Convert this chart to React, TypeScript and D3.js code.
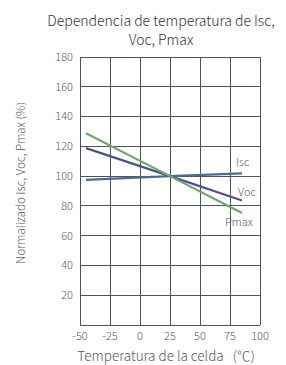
import { useEffect, useRef } from 'react'
import { select, scaleLinear, line } from 'd3'

// temperature (°C) sample points for each curve
const temps = [-45, 25, 85]
const iscValues = [97.5, 100, 101.8]
const vocValues = [118.8, 100, 83.6]
const pmaxValues = [128.8, 100, 75.2]

const xTicks = [-50, -25, 0, 25, 50, 75, 100]
const yTicks = [0, 20, 40, 60, 80, 100, 120, 140, 160, 180]

const seriesNames = ['Isc', 'Voc', 'Pmax']
const seriesColors = ['#4a6b96', '#4e528c', '#6fa86a']

const W = 286
const H = 365

const App = () => {
  const svgRef = useRef(null)

  useEffect(() => {
    const svg = select(svgRef.current)
    svg.selectAll('*').remove()

    const font = '"Noto Sans CJK SC", "Noto Sans", sans-serif'
    const textColor = '#595959'
    const gridColor = '#4d525c'

    const x = scaleLinear().domain([-50, 100]).range([80, 260])
    const y = scaleLinear().domain([0, 180]).range([325, 57])

    // title
    const title = ['Dependencia de temperatura de Isc,', 'Voc, Pmax']
    svg
      .append('g')
      .selectAll('text')
      .data(title)
      .join('text')
      .attr('x', 161)
      .attr('y', (_, i) => 26 + i * 19)
      .attr('text-anchor', 'middle')
      .attr('font-family', font)
      .attr('font-weight', 300)
      .attr('font-size', 14)
      .attr('fill', '#333')
      .text((d) => d)

    // grid
    const grid = svg.append('g')
    grid
      .selectAll('line.v')
      .data(xTicks)
      .join('line')
      .attr('x1', (d) => x(d))
      .attr('x2', (d) => x(d))
      .attr('y1', y(0))
      .attr('y2', y(180))
      .attr('stroke', gridColor)
      .attr('stroke-width', 1)
      .attr('shape-rendering', 'crispEdges')
    grid
      .selectAll('line.h')
      .data(yTicks)
      .join('line')
      .attr('x1', x(-50))
      .attr('x2', x(100))
      .attr('y1', (d) => y(d))
      .attr('y2', (d) => y(d))
      .attr('stroke', gridColor)
      .attr('stroke-width', 1)
      .attr('shape-rendering', 'crispEdges')

    // y tick labels
    svg
      .append('g')
      .selectAll('text')
      .data(yTicks.filter((d) => d > 0))
      .join('text')
      .attr('x', 73)
      .attr('y', (d) => y(d))
      .attr('dy', '0.35em')
      .attr('text-anchor', 'end')
      .attr('font-family', font)
      .attr('font-weight', 300)
      .attr('font-size', 11)
      .attr('fill', textColor)
      .text((d) => d)

    // x tick labels
    svg
      .append('g')
      .selectAll('text')
      .data(xTicks)
      .join('text')
      .attr('x', (d) => x(d))
      .attr('y', 340)
      .attr('text-anchor', 'middle')
      .attr('font-family', font)
      .attr('font-weight', 300)
      .attr('font-size', 11)
      .attr('fill', textColor)
      .text((d) => d)

    // axis titles
    svg
      .append('text')
      .attr('x', 166)
      .attr('y', 361)
      .attr('text-anchor', 'middle')
      .attr('font-family', font)
      .attr('font-weight', 300)
      .attr('font-size', 13.5)
      .attr('fill', textColor)
      .text('Temperatura de la celda\u00a0\u00a0\u00a0(℃)')
    svg
      .append('text')
      .attr('transform', 'translate(25, 183) rotate(-90)')
      .attr('text-anchor', 'middle')
      .attr('font-family', font)
      .attr('font-weight', 300)
      .attr('font-size', 11.5)
      .attr('fill', textColor)
      .text('Normalizado Isc, Voc, Pmax (%)')

    // series lines
    const series = [iscValues, vocValues, pmaxValues]
    const lineGen = line<number>()
      .x((_, i) => x(temps[i]))
      .y((d) => y(d))
    series.forEach((vals, i) => {
      svg
        .append('path')
        .attr('d', lineGen(vals))
        .attr('fill', 'none')
        .attr('stroke', seriesColors[i])
        .attr('stroke-width', 2.2)
    })

    // series labels near the right end
    const labelPos = [
      { x: 236, y: 162 },
      { x: 238, y: 192 },
      { x: 225, y: 222 },
    ]
    seriesNames.forEach((name, i) => {
      svg
        .append('text')
        .attr('x', labelPos[i].x)
        .attr('y', labelPos[i].y)
        .attr('dy', '0.35em')
        .attr('font-family', font)
        .attr('font-weight', 300)
        .attr('font-size', 11)
        .attr('fill', textColor)
        .text(name)
    })
  }, [])

  return (
    <svg
      ref={svgRef}
      width={W}
      height={H}
      style={{ position: 'absolute', left: 0, top: 0, background: '#fff' }}
    />
  )
}

export default App
